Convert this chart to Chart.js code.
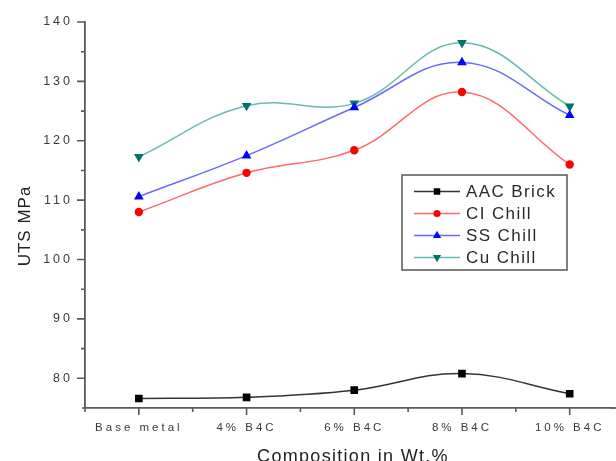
<!DOCTYPE html>
<html><head><meta charset="utf-8">
<script src="https://cdn.jsdelivr.net/npm/chart.js@4/dist/chart.umd.min.js"></script>
<style>html,body{margin:0;padding:0;background:#fff;overflow:hidden}#wrap{width:616px;height:461px}</style>
</head><body><div id="wrap"><canvas id="c" width="616" height="461"></canvas></div>
<script>
const categories = ['Base metal', '4% B4C', '6% B4C', '8% B4C', '10% B4C'];
const seriesNames = ['AAC Brick', 'CI Chill', 'SS Chill', 'Cu Chill'];
const aacBrick = [76.6, 76.8, 78.0, 80.8, 77.4];
const ciChill  = [108.0, 114.6, 118.4, 128.2, 116.0];
const ssChill  = [110.6, 117.5, 125.6, 133.2, 124.3];
const cuChill  = [117.3, 125.9, 126.3, 136.5, 125.8];
const yTicks = [80, 90, 100, 110, 120, 130, 140];
const xTitle = 'Composition in Wt.%';
const yTitle = 'UTS MPa';

const FONT = "'Liberation Sans', Arial, sans-serif";

function pts(arr) { return arr.map((v, i) => ({x: i, y: v})); }

const styles = [
  {line: '#333333', point: '#000000', style: 'rect', r: 5.4, rot: 0},
  {line: '#ff6a6a', point: '#ff0000', style: 'circle', r: 4.2, rot: 0},
  {line: '#6a6aff', point: '#0000ff', style: 'triangle', r: 5.6, rot: 0},
  {line: '#66bab2', point: '#00736c', style: 'triangle', r: 5.6, rot: 180}
];
const seriesData = [aacBrick, ciChill, ssChill, cuChill];

const datasets = seriesData.map((d, i) => ({
  label: seriesNames[i],
  data: pts(d),
  borderColor: styles[i].line,
  backgroundColor: styles[i].point,
  pointBackgroundColor: styles[i].point,
  pointBorderColor: styles[i].point,
  pointStyle: styles[i].style,
  pointRadius: styles[i].r,
  pointRotation: styles[i].rot,
  pointBorderWidth: 0,
  borderWidth: 1.5,
  tension: 0.4,
  fill: false
}));

const axisPlugin = {
  id: 'axisTicks',
  beforeDraw(chart) { chart.ctx.letterSpacing = '3px'; },
  beforeDatasetsDraw(chart) { chart.ctx.letterSpacing = '0px'; },
  afterDraw(chart) {
    const ctx = chart.ctx;
    const xs = chart.scales.x, ys = chart.scales.y;
    const ca = chart.chartArea;
    ctx.save();
    ctx.letterSpacing = '0px';
    ctx.strokeStyle = '#5a5a5a';
    ctx.lineWidth = 1.6;
    ctx.beginPath();
    yTicks.forEach((v, i) => {
      const y = ys.getPixelForValue(v);
      ctx.moveTo(ca.left - 8, y); ctx.lineTo(ca.left, y);
      if (i < yTicks.length - 1) {
        const ym = ys.getPixelForValue((v + yTicks[i + 1]) / 2);
        ctx.moveTo(ca.left - 4, ym); ctx.lineTo(ca.left, ym);
      }
    });
    categories.forEach((c, i) => {
      const x = xs.getPixelForValue(i);
      ctx.moveTo(x, ca.bottom); ctx.lineTo(x, ca.bottom + 7);
      const xm = xs.getPixelForValue(i - 0.5);
      ctx.moveTo(xm, ca.bottom); ctx.lineTo(xm, ca.bottom + 4);
    });
    ctx.moveTo(ca.left - 3, ca.bottom); ctx.lineTo(ca.left, ca.bottom);
    ctx.stroke();
    ctx.lineWidth = 1.8;
    ctx.beginPath();
    ctx.moveTo(ca.right, ca.bottom); ctx.lineTo(chart.width, ca.bottom);
    ctx.stroke();

    ctx.fillStyle = '#222';
    ctx.font = '18px ' + FONT;
    ctx.letterSpacing = '1.3px';
    ctx.textAlign = 'center';
    ctx.textBaseline = 'alphabetic';
    ctx.fillText(xTitle, 353, 461.5);
    ctx.save();
    ctx.translate(30, 226);
    ctx.rotate(-Math.PI / 2);
    ctx.font = '17px ' + FONT;
    ctx.letterSpacing = '1px';
    ctx.fillText(yTitle, 0, 0);
    ctx.restore();

    const bx = 402, by = 175, bw = 165, bh = 95;
    ctx.fillStyle = '#fff';
    ctx.fillRect(bx, by, bw, bh);
    ctx.strokeStyle = '#555';
    ctx.lineWidth = 1.5;
    ctx.strokeRect(bx, by, bw, bh);
    const rows = [191.5, 213.5, 235.5, 257.5];
    chart.data.datasets.forEach((ds, i) => {
      const y = rows[i];
      ctx.strokeStyle = ds.borderColor;
      ctx.lineWidth = 1.6;
      ctx.beginPath(); ctx.moveTo(414, y); ctx.lineTo(460, y); ctx.stroke();
      ctx.fillStyle = ds.pointBackgroundColor;
      ctx.strokeStyle = ds.pointBackgroundColor;
      Chart.helpers.drawPoint(ctx, {pointStyle: ds.pointStyle, radius: ds.pointRadius * 0.85, rotation: ds.pointRotation, borderWidth: 0}, 437, y);
      ctx.fillStyle = '#2a2a2a';
      ctx.font = '17px ' + FONT;
      ctx.letterSpacing = '1.4px';
      ctx.textAlign = 'left';
      ctx.textBaseline = 'middle';
      ctx.fillText(ds.label, 466, y + 1);
    });
    ctx.restore();
  }
};

new Chart(document.getElementById('c'), {
  type: 'line',
  data: {datasets},
  options: {
    responsive: false,
    animation: false,
    devicePixelRatio: 1,
    layout: {padding: {top: 22, right: 0, left: 0, bottom: 0}},
    plugins: {legend: {display: false}, tooltip: {enabled: false}},
    scales: {
      x: {
        type: 'linear',
        min: -0.5,
        max: 4.378,
        grid: {display: false, drawTicks: false},
        border: {display: true, color: '#5a5a5a', width: 1.8},
        afterBuildTicks: s => { s.ticks = categories.map((c, i) => ({value: i})); },
        afterFit: s => { s.height = 53; },
        ticks: {
          autoSkip: false, maxRotation: 0, padding: 13,
          color: '#3a3a3a',
          font: {family: FONT, size: 11.5},
          callback: v => categories[Math.round(v)] || ''
        }
      },
      y: {
        min: 75,
        max: 140,
        grid: {display: false, drawTicks: false},
        border: {display: true, color: '#5a5a5a', width: 1.8},
        afterBuildTicks: s => { s.ticks = yTicks.map(v => ({value: v})); },
        afterFit: s => { s.width = 85; },
        ticks: {
          padding: 12,
          color: '#3a3a3a',
          font: {family: FONT, size: 12.5},
          callback: v => String(v)
        }
      }
    }
  },
  plugins: [axisPlugin]
});
</script>
</body></html>
